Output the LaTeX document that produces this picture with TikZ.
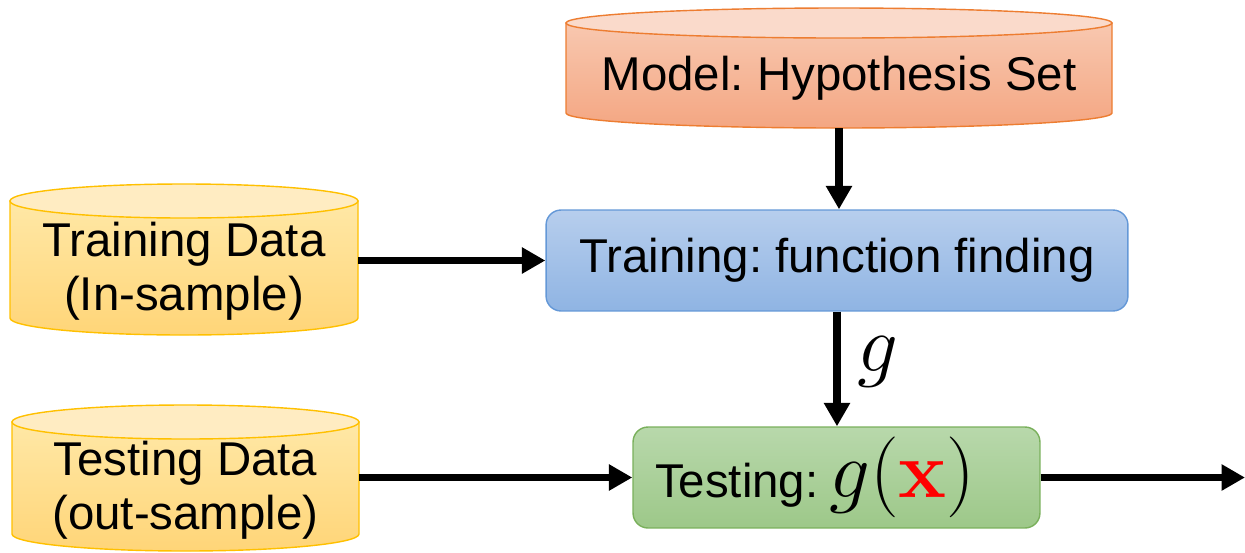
\RequirePackage{fix-cm}
\documentclass[tikz,border=0pt]{standalone}
\usepackage{amsmath}
\usepackage[no-math]{fontspec}
\setmainfont{Liberation Sans}
\usepackage{xcolor}
\usepackage{tikz}
\usetikzlibrary{arrows.meta,positioning,calc}
\frenchspacing

\definecolor{modeltop}{RGB}{248,200,176}
\definecolor{modelbot}{RGB}{244,166,130}
\definecolor{modelcap}{RGB}{250,218,203}
\definecolor{modelline}{RGB}{237,125,49}
\definecolor{datatop}{RGB}{255,232,166}
\definecolor{databot}{RGB}{255,213,120}
\definecolor{datacap}{RGB}{255,236,194}
\definecolor{dataline}{RGB}{255,192,0}
\definecolor{traintop}{RGB}{183,206,237}
\definecolor{trainbot}{RGB}{143,180,227}
\definecolor{trainline}{RGB}{100,152,215}
\definecolor{testtop}{RGB}{184,216,171}
\definecolor{testbot}{RGB}{157,200,137}
\definecolor{testline}{RGB}{122,176,92}

\begin{document}
\begin{tikzpicture}[x=0.02cm, y=-0.02cm,
    label/.style={font=\fontsize{27}{30.5}\selectfont, inner sep=0pt},
    flow/.style={line width=4.5pt, -{Triangle[length=0.47cm, width=0.5cm]}}]
  \useasboundingbox (0,0) rectangle (1245,552);
  % Model cylinder (body, then top cap)
  \shade[top color=modeltop, bottom color=modelbot, draw=modelline, line width=0.8pt]
    (566,23) -- (566,113) arc[start angle=180, end angle=0, x radius=273, y radius=15]
    -- (1112,23) -- cycle;
  \filldraw[fill=modelcap, draw=modelline, line width=0.8pt] (839,23) ellipse [x radius=273, y radius=15];
  \node[label, minimum width=10.92cm, minimum height=2cm] (model) at (839,78) {Model: Hypothesis Set};
  % Training data cylinder
  \shade[top color=datatop, bottom color=databot, draw=dataline, line width=0.8pt]
    (10,201) -- (10,318) arc[start angle=180, end angle=0, x radius=174, y radius=17]
    -- (358,201) -- cycle;
  \filldraw[fill=datacap, draw=dataline, line width=0.8pt] (184,201) ellipse [x radius=174, y radius=17];
  \node[label, align=center, minimum width=6.96cm] (traindata) at (184,271) {Training Data\\(In-sample)};
  % Testing data cylinder
  \shade[top color=datatop, bottom color=databot, draw=dataline, line width=0.8pt]
    (12,422) -- (12,534) arc[start angle=180, end angle=0, x radius=173.5, y radius=17]
    -- (359,422) -- cycle;
  \filldraw[fill=datacap, draw=dataline, line width=0.8pt] (185.5,422) ellipse [x radius=173.5, y radius=17];
  \node[label, align=center, minimum width=6.94cm] (testdata) at (185.5,490) {Testing Data\\(out-sample)};
  % Training box
  \node[label, shade, top color=traintop, bottom color=trainbot, draw=trainline, line width=0.8pt,
    rounded corners=0.3cm, minimum width=11.64cm, minimum height=2.02cm] (train) at (837,260.5)
    {Training: function finding};
  % Testing box
  \node[label, shade, top color=testtop, bottom color=testbot, draw=testline, line width=0.8pt,
    rounded corners=0.3cm, text width=7.26cm, inner xsep=0.44cm, align=left, minimum height=2.02cm]
    (test) at (836.5,477.5)
    {Testing:\hspace{0.22cm}{\fontsize{46}{50}\selectfont$g(\textcolor{red}{\mathbf{x}})$}};
  % Output end
  \coordinate (out) at (1245,477.5);
  % Arrows
  \draw[flow] (model.south) -- (model.south |- train.north);
  \draw[flow] (traindata.east |- train.west) -- (train.west);
  \draw[flow] (train.south) -- (train.south |- test.north);
  \draw[flow] (testdata.east |- test.west) -- (test.west);
  \draw[flow] (test.east) -- (out);
  % g label
  \node[font=\fontsize{46}{50}\selectfont, inner sep=0pt] (glabel) at (878,362) {$g$};
\end{tikzpicture}
\end{document}
